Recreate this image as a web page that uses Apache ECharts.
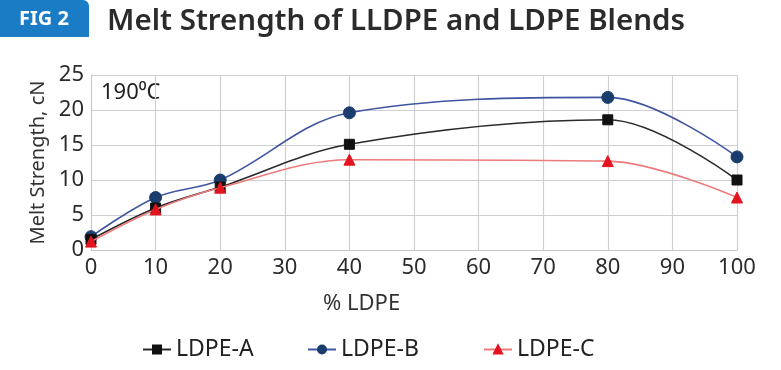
<!DOCTYPE html>
<html>
<head>
<meta charset="utf-8">
<script src="https://cdn.jsdelivr.net/npm/echarts@6/dist/echarts.min.js"></script>
<style>html,body{margin:0;padding:0;background:#fff}#c{width:781px;height:370px}</style>
</head>
<body>
<div id="c"></div>
<script>
var xValues = [0, 10, 20, 40, 80, 100];
var ldpeA = [1.5, 6.0, 9.0, 15.1, 18.6, 10.0];
var ldpeB = [1.9, 7.5, 10.0, 19.6, 21.8, 13.3];
var ldpeC = [1.2, 5.8, 8.9, 12.9, 12.7, 7.5];
var seriesNames = ['LDPE-A', 'LDPE-B', 'LDPE-C'];
var xTicks = [0, 10, 20, 30, 40, 50, 60, 70, 80, 90, 100];
var yTicks = [0, 5, 10, 15, 20, 25];

function pairs(v) { return xValues.map(function (x, i) { return [x, v[i]]; }); }
var FONT = '"Noto Sans", "Open Sans", sans-serif';
var chart = echarts.init(document.getElementById('c'), null, {renderer: 'canvas'});
var lineCol = ['#2a2a2a', '#3f54a0', '#ec7b7b'];
var markCol = ['#111111', '#1b3d6d', '#e3141f'];
var symbols = ['rect', 'circle', 'triangle'];
var sizes = [10, 12, 11];
var data = [ldpeA, ldpeB, ldpeC];

chart.setOption({
  animation: false,
  graphic: [
    {type: 'rect', left: 0, top: 0, shape: {width: 89, height: 37, r: [0, 6, 0, 0]}, style: {fill: '#1a7cc5'}},
    {type: 'text', x: 44, y: 19, style: {text: 'FIG 2', fill: '#fff', font: 'bold 20px ' + FONT, textAlign: 'center', textVerticalAlign: 'middle'}},
    {type: 'text', x: 107, y: 22, style: {text: 'Melt Strength of LLDPE and LDPE Blends', fill: '#2b2b2b', font: '600 29.5px ' + FONT, textVerticalAlign: 'middle'}},
    {type: 'text', x: 101, y: 93, style: {text: '190⁰C', fill: '#222', font: '22px ' + FONT, textVerticalAlign: 'middle'}},
    {type: 'text', x: 323, y: 304, style: {text: '% LDPE', fill: '#333', font: '22px ' + FONT, textVerticalAlign: 'middle'}}
  ],
  grid: {left: 91, top: 75, width: 646, height: 175, show: false},
  legend: [0, 1, 2].map(function (i) {
    return {
      data: [seriesNames[i]], left: [137, 302, 478][i], top: 333,
      itemWidth: 28, itemHeight: 10, itemGap: 10,
      textStyle: {fontSize: 23, color: '#222', fontFamily: FONT}
    };
  }),
  xAxis: {
    type: 'value', min: 0, max: 100, interval: 10,
    axisLine: {show: true, lineStyle: {color: '#c8c8c8'}},
    axisTick: {show: false},
    splitLine: {show: true, lineStyle: {color: '#cfcfcf', width: 1.2}},
    axisLabel: {fontSize: 22, color: '#2b2b2b', fontFamily: FONT, margin: 7,
      formatter: function (v) { return xTicks.indexOf(v) >= 0 ? String(v) : ''; }}
  },
  yAxis: {
    type: 'value', min: 0, max: 25, interval: 5,
    name: 'Melt Strength, cN', nameLocation: 'middle', nameGap: 43,
    nameTextStyle: {fontSize: 20, color: '#333', fontFamily: FONT},
    axisLine: {show: true, lineStyle: {color: '#c8c8c8'}},
    axisTick: {show: false},
    splitLine: {show: true, lineStyle: {color: '#cfcfcf', width: 1.2}},
    axisLabel: {fontSize: 22, color: '#2b2b2b', fontFamily: FONT, margin: 7,
      formatter: function (v) { return yTicks.indexOf(v) >= 0 ? String(v) : ''; }}
  },
  series: [0, 1, 2].map(function (i) {
    return {
      name: seriesNames[i], type: 'line', smooth: 0.35,
      data: pairs(data[i]), symbol: symbols[i], symbolSize: sizes[i],
      lineStyle: {color: lineCol[i], width: 1.6},
      itemStyle: {color: markCol[i], borderColor: markCol[i], borderWidth: 1},
      z: [3, 2, 4][i]
    };
  })
});
</script>
</body>
</html>
